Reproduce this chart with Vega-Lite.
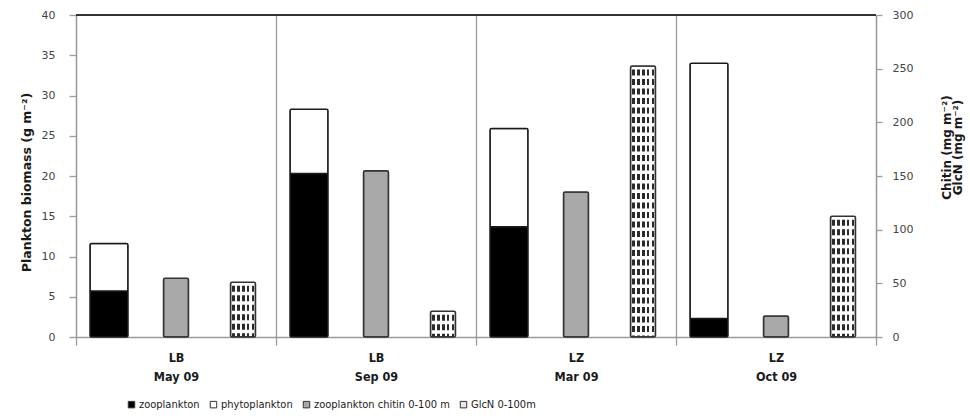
{
  "$schema": "https://vega.github.io/schema/vega-lite/v6.json",
  "width": 800,
  "height": 322,
  "autosize": "none",
  "padding": {"left": 76, "top": 15, "right": 94, "bottom": 81},
  "background": "white",
  "config": {"view": {"stroke": null}},
  "data": {
    "values": [
      {"group": "LB|May 09", "measure": "biomass", "series": "zooplankton", "value": 5.7},
      {"group": "LB|May 09", "measure": "biomass", "series": "phytoplankton", "value": 5.9},
      {"group": "LB|May 09", "measure": "chitin", "series": "zooplankton chitin 0-100 m", "value": 54.7},
      {"group": "LB|May 09", "measure": "glcn", "series": "GlcN 0-100m", "value": 51},
      {"group": "LB|Sep 09", "measure": "biomass", "series": "zooplankton", "value": 20.3},
      {"group": "LB|Sep 09", "measure": "biomass", "series": "phytoplankton", "value": 8.0},
      {"group": "LB|Sep 09", "measure": "chitin", "series": "zooplankton chitin 0-100 m", "value": 155},
      {"group": "LB|Sep 09", "measure": "glcn", "series": "GlcN 0-100m", "value": 24},
      {"group": "LZ|Mar 09", "measure": "biomass", "series": "zooplankton", "value": 13.7},
      {"group": "LZ|Mar 09", "measure": "biomass", "series": "phytoplankton", "value": 12.2},
      {"group": "LZ|Mar 09", "measure": "chitin", "series": "zooplankton chitin 0-100 m", "value": 135},
      {"group": "LZ|Mar 09", "measure": "glcn", "series": "GlcN 0-100m", "value": 252.5},
      {"group": "LZ|Oct 09", "measure": "biomass", "series": "zooplankton", "value": 2.3},
      {"group": "LZ|Oct 09", "measure": "biomass", "series": "phytoplankton", "value": 31.7},
      {"group": "LZ|Oct 09", "measure": "chitin", "series": "zooplankton chitin 0-100 m", "value": 19.5},
      {"group": "LZ|Oct 09", "measure": "glcn", "series": "GlcN 0-100m", "value": 112.5}
    ]
  },
  "layer": [
    {
      "layer": [
        {
          "transform": [{"filter": "datum.measure == 'biomass'"}],
          "mark": {"type": "bar", "stroke": "#1a1a1a", "strokeWidth": 1.5, "cornerRadius": 1.5},
          "encoding": {
            "x": {
              "field": "group", "type": "nominal", "sort": null,
              "scale": {"domain": ["LB|May 09", "LB|Sep 09", "LZ|Mar 09", "LZ|Oct 09"], "paddingInner": 0, "paddingOuter": 0},
              "axis": {
                "title": null, "labelExpr": "datum.value ? split(datum.value, '|') : ''", "labelAngle": 0,
                "labelFont": "DejaVu Sans Condensed", "labelFontWeight": "bold", "labelFontSize": 12.5, "labelColor": "#1a1a1a",
                "labelLineHeight": 19, "labelPadding": 6, "labelBaseline": "top",
                "tickBand": "extent", "grid": true, "gridColor": "#9a9a9a", "gridWidth": 1.3,
                "tickSize": 8, "tickColor": "#9a9a9a", "tickWidth": 1.3,
                "domainColor": "#9a9a9a", "domainWidth": 1.3
              }
            },
            "xOffset": {"field": "measure", "type": "nominal", "scale": {"domain": ["biomass", "chitin", "glcn"], "paddingInner": 0.433, "paddingOuter": 0.209}},
            "y": {
              "field": "value", "type": "quantitative", "stack": "zero",
              "scale": {"domain": [0, 40], "nice": false},
              "axis": {
                "title": "Plankton biomass (g m⁻²)", "values": [0, 5, 10, 15, 20, 25, 30, 35, 40],
                "grid": false, "tickSize": 7, "labelPadding": 14,
                "labelFont": "DejaVu Sans", "labelFontSize": 11, "labelColor": "#444444",
                "titleFont": "DejaVu Sans", "titleFontSize": 12.5, "titleFontWeight": "bold", "titleColor": "#1a1a1a",
                "titleY": 167, "titlePadding": 8,
                "domainColor": "#9a9a9a", "domainWidth": 1.3, "tickColor": "#9a9a9a", "tickWidth": 1.3
              }
            },
            "fill": {
              "field": "series", "type": "nominal",
              "scale": {"domain": ["zooplankton", "phytoplankton", "zooplankton chitin 0-100 m", "GlcN 0-100m"], "range": ["#000000", "#ffffff", "#a9a9a9", "#e8e8e8"]},
              "legend": {
                "orient": "none", "legendX": 50, "legendY": 384, "direction": "horizontal", "title": null,
                "symbolType": "square", "symbolSize": 42, "symbolStrokeColor": "#222222", "symbolStrokeWidth": 1,
                "labelFont": "DejaVu Sans Condensed", "labelFontSize": 11,
                "labelColor": "#1a1a1a", "labelOffset": 2, "columnPadding": 8, "padding": 0, "labelLimit": 0
              }
            },
            "order": {"field": "series", "sort": "descending"}
          }
        },
        {
          "mark": {"type": "rule", "stroke": "#333333", "strokeWidth": 1.8},
          "encoding": {"y": {"datum": 40, "type": "quantitative"}}
        }
      ]
    },
    {
      "layer": [
        {
          "transform": [{"filter": "datum.measure == 'chitin'"}],
          "mark": {"type": "bar", "stroke": "#333333", "strokeWidth": 1.5, "cornerRadius": 1.5},
          "encoding": {
            "x": {"field": "group", "type": "nominal", "sort": null},
            "xOffset": {"field": "measure", "type": "nominal", "scale": {"domain": ["biomass", "chitin", "glcn"], "paddingInner": 0.627, "paddingOuter": 0.306}},
            "y": {
              "field": "value", "type": "quantitative",
              "scale": {"domain": [0, 300], "nice": false},
              "axis": {
                "orient": "right", "title": ["Chitin (mg m⁻²)", "GlcN (mg m⁻²)"],
                "values": [0, 50, 100, 150, 200, 250, 300],
                "grid": false, "tickSize": 6, "labelPadding": 10,
                "labelFont": "DejaVu Sans", "labelFontSize": 11, "labelColor": "#444444",
                "titleFont": "DejaVu Sans", "titleFontSize": 12, "titleFontWeight": "bold", "titleColor": "#1a1a1a",
                "titleAngle": -90, "titleLineHeight": 11, "titleY": 132, "titlePadding": 30,
                "domainColor": "#9a9a9a", "domainWidth": 1.3, "tickColor": "#9a9a9a", "tickWidth": 1.3
              }
            },
            "fill": {"field": "series", "type": "nominal"}
          }
        },
        {
          "transform": [{"filter": "datum.measure == 'glcn'"}],
          "mark": {
            "type": "bar", "strokeWidth": 0,
            "fill": {
              "gradient": "linear", "x1": 0, "y1": 0, "x2": 1, "y2": 0,
              "stops": [
                {"offset": 0, "color": "#ffffff"}, {"offset": 0.05, "color": "#ffffff"},
                {"offset": 0.05, "color": "#2b2b2b"}, {"offset": 0.16, "color": "#2b2b2b"},
                {"offset": 0.16, "color": "#ffffff"}, {"offset": 0.25, "color": "#ffffff"},
                {"offset": 0.25, "color": "#2b2b2b"}, {"offset": 0.36, "color": "#2b2b2b"},
                {"offset": 0.36, "color": "#ffffff"}, {"offset": 0.45, "color": "#ffffff"},
                {"offset": 0.45, "color": "#2b2b2b"}, {"offset": 0.56, "color": "#2b2b2b"},
                {"offset": 0.56, "color": "#ffffff"}, {"offset": 0.65, "color": "#ffffff"},
                {"offset": 0.65, "color": "#2b2b2b"}, {"offset": 0.76, "color": "#2b2b2b"},
                {"offset": 0.76, "color": "#ffffff"}, {"offset": 0.85, "color": "#ffffff"},
                {"offset": 0.85, "color": "#2b2b2b"}, {"offset": 0.96, "color": "#2b2b2b"},
                {"offset": 0.96, "color": "#ffffff"}, {"offset": 1, "color": "#ffffff"}
              ]
            }
          },
          "encoding": {
            "x": {"field": "group", "type": "nominal", "sort": null},
            "xOffset": {"field": "measure", "type": "nominal"},
            "y": {"field": "value", "type": "quantitative"}
          }
        },
        {
          "transform": [{"filter": "datum.measure == 'glcn'"}],
          "mark": {"type": "rule", "stroke": "#ffffff", "strokeWidth": 24, "strokeDash": [3.5, 6]},
          "encoding": {
            "x": {"field": "group", "type": "nominal", "sort": null},
            "xOffset": {"field": "measure", "type": "nominal"},
            "y": {"field": "value", "type": "quantitative"},
            "y2": {"datum": 0}
          }
        },
        {
          "transform": [{"filter": "datum.measure == 'glcn'"}],
          "mark": {"type": "bar", "fillOpacity": 0, "fill": "#ffffff", "stroke": "#333333", "strokeWidth": 1.5, "cornerRadius": 1.5},
          "encoding": {
            "x": {"field": "group", "type": "nominal", "sort": null},
            "xOffset": {"field": "measure", "type": "nominal"},
            "y": {"field": "value", "type": "quantitative"}
          }
        }
      ]
    }
  ],
  "resolve": {"scale": {"y": "independent", "xOffset": "independent"}}
}
